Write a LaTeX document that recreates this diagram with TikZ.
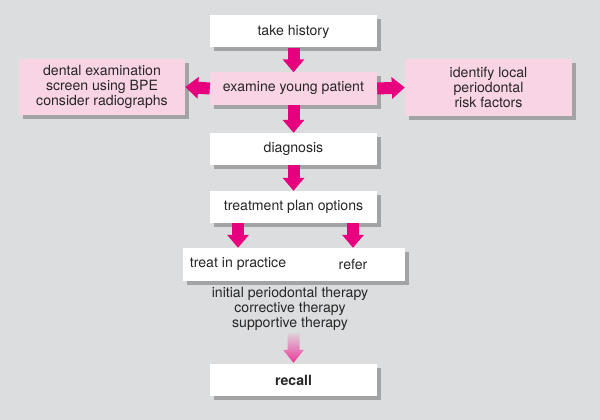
\documentclass[tikz,border=0pt]{standalone}
\usepackage{fontspec}
\setmainfont{TeX Gyre Heros}
\usetikzlibrary{arrows.meta,shadows,calc}
\definecolor{bg}{HTML}{DCDDDF}
\definecolor{pinkbox}{HTML}{F9D4E5}
\definecolor{mag}{HTML}{E6007E}
\definecolor{shad}{HTML}{A2A3A5}
\definecolor{txt}{HTML}{262626}
\begin{document}
\begin{tikzpicture}[x=1pt,y=-1pt,
 every node/.style={font=\fontsize{14.1}{14.7}\selectfont, text=txt, inner sep=0pt},
 box/.style={minimum width=167pt, minimum height=32pt, fill=white,
   drop shadow={shadow xshift=4pt, shadow yshift=-4pt, fill=shad, opacity=1}},
 pbox/.style={box, fill=pinkbox},
 fat/.style={draw=mag, line width=12pt, -{Triangle[width=21pt,length=13pt]}},
]
\fill[bg] (0,0) rectangle (600,420);
\useasboundingbox (0,0) rectangle (600,420);

\node[box] (hist) at (293.5,31.5) {take history};
\node[pbox] (exam) at (293.5,88.5) {examine young patient};
\node[pbox, minimum width=166pt, minimum height=56pt, align=center] (dent) at (102,87) {dental examination\\screen using BPE\\consider radiographs};
\node[pbox, minimum height=56pt, align=center] (risk) at (488.5,87.5) {identify local\\periodontal\\risk factors};
\node[box] (diag) at (293.5,149) {diagnosis};
\node[box] (plan) at (293.5,207) {treatment plan options};
\node[box, minimum width=222pt, minimum height=33pt] (opts) at (294,264.5) {};
\node (tip) at (238,264.5) {treat in practice};
\node (ref) at (353,264.5) {refer};
\node[align=center] (ther) at (290,309) {initial periodontal therapy\\corrective therapy\\supportive therapy};
\node[box] (rec) at (293.5,380) {\bfseries recall};

\draw[fat] (hist.south) -- (exam.north);
\draw[fat] (exam.west) -- (dent.east);
\draw[fat] (exam.east) -- (risk.west);
\draw[fat] (exam.south) -- (diag.north);
\draw[fat] (diag.south) -- (plan.north);
\draw[fat] (plan.south -| tip) -- (opts.north -| tip);
\draw[fat] (plan.south -| ref) -- (opts.north -| ref);

\shade[top color=mag!5!bg, bottom color=mag!78!white]
  ($(rec.north)+(-6,-31)$) -- ($(rec.north)+(6,-31)$) -- ($(rec.north)+(6,-14)$)
  -- ($(rec.north)+(10.5,-14)$) -- ($(rec.north)+(0,-1)$) -- ($(rec.north)+(-10.5,-14)$)
  -- ($(rec.north)+(-6,-14)$) -- cycle;
\end{tikzpicture}
\end{document}
